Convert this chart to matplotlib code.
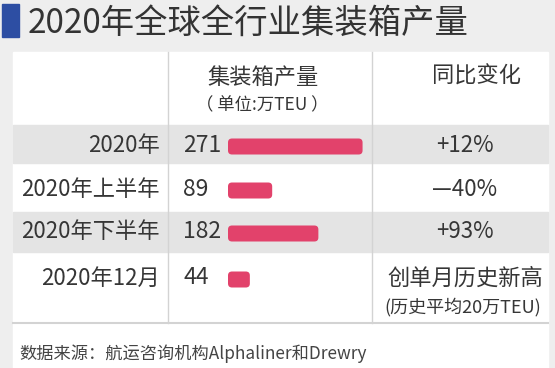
import matplotlib
matplotlib.use("Agg")
import matplotlib.pyplot as plt
from matplotlib.patches import Rectangle, FancyBboxPatch

plt.rcParams['font.family'] = ['Noto Sans CJK SC', 'DejaVu Sans']
plt.rcParams['font.weight'] = 'light'

# ---- data ----
title = '2020年全球全行业集装箱产量'
col_headers = ['集装箱产量', '同比变化']
unit_label = '（ 单位:万TEU ）'
categories = ['2020年', '2020年上半年', '2020年下半年', '2020年12月']
values = [271, 89, 182, 44]
changes = ['+12%', '—40%', '+93%', '创单月历史新高']
notes = ['', '', '', '(历史平均20万TEU)']
source = '数据来源：航运咨询机构Alphaliner和Drewry'

# ---- layout (pixel coordinates) ----
W, H = 555, 368
fig = plt.figure(figsize=(W / 100, H / 100), dpi=100, facecolor='#eeeeee')
ax = fig.add_axes([0, 0, 1, 1])
ax.set_xlim(0, W)
ax.set_ylim(H, 0)
ax.axis('off')

text_color = '#363636'
band_color = '#e4e4e4'
line_color = '#d3d3d3'
bar_color = '#e2426b'

panel_l, panel_r, panel_t = 13, 548, 52
div1, div2 = 168, 372
row_tops = [125, 163, 212, 252]
row_bots = [163, 212, 252, 323]
text_y = [145, 189, 232, 278]

# title
ax.add_patch(Rectangle((2, 4), 17, 33, color='#2d4ea3', zorder=1))
ax.text(28, 23, title, fontsize=24, color='#333333', va='center', ha='left')

# panel
ax.add_patch(Rectangle((panel_l, panel_t), panel_r - panel_l, H - panel_t,
                       color='white', zorder=0))
for i, (t, b) in enumerate(zip(row_tops, row_bots)):
    if i % 2 == 0 and i < 3:
        ax.add_patch(Rectangle((panel_l, t), panel_r - panel_l, b - t,
                               color=band_color, zorder=1))
for x in (div1, div2):
    ax.plot([x, x], [panel_t, row_bots[-1]], color=line_color, lw=1, zorder=2)
ax.plot([panel_l, panel_r], [row_bots[-1], row_bots[-1]], color=line_color,
        lw=1.5, zorder=2)

# headers
ax.text(263, 77, col_headers[0], fontsize=16, color=text_color, ha='center', va='center', zorder=3)
ax.text(262, 105, unit_label, fontsize=12.5, color=text_color, ha='center', va='center', zorder=3)
ax.text(476, 76, col_headers[1], fontsize=16, color=text_color, ha='center', va='center', zorder=3)

# rows
for i, cat in enumerate(categories):
    y = text_y[i]
    ax.text(160, y, cat, fontsize=16, color=text_color, ha='right', va='center', zorder=3)
    ax.text(183, y, str(values[i]), fontsize=16.5, color=text_color, ha='left', va='center', zorder=3)
    ax.text(465, y, changes[i], fontsize=16, color=text_color, ha='center', va='center', zorder=3)
    if notes[i]:
        ax.text(463, y + 29, notes[i], fontsize=13, color=text_color, ha='center', va='center', zorder=3)

# bars in their own axes: x in data units, y in pixel rows
bar_left_px, bar_width_px = 228, 144
bax = fig.add_axes([bar_left_px / W, 0, bar_width_px / W, 1])
bax.set_xlim(0, 290)
bax.set_ylim(H, 0)
bax.axis('off')
bax.patch.set_alpha(0)
bar_y = [y + 1.5 for y in text_y]
bars = bax.barh(bar_y, values, height=16, color=bar_color)
px_per_unit = bar_width_px / 290
for r in bars:
    x0, y0 = r.get_x(), r.get_y()
    w, h = r.get_width(), r.get_height()
    r.set_visible(False)
    bax.add_patch(FancyBboxPatch((x0, y0), w, h,
                                 boxstyle='round,pad=0,rounding_size=%f' % (4 / px_per_unit),
                                 mutation_aspect=px_per_unit,
                                 facecolor=bar_color, edgecolor='none'))

# footer
ax.text(19, 354, source, fontsize=12.4, color='#444444', ha='left', va='center', zorder=3)

fig.savefig('out.png', dpi=100, facecolor=fig.get_facecolor())
